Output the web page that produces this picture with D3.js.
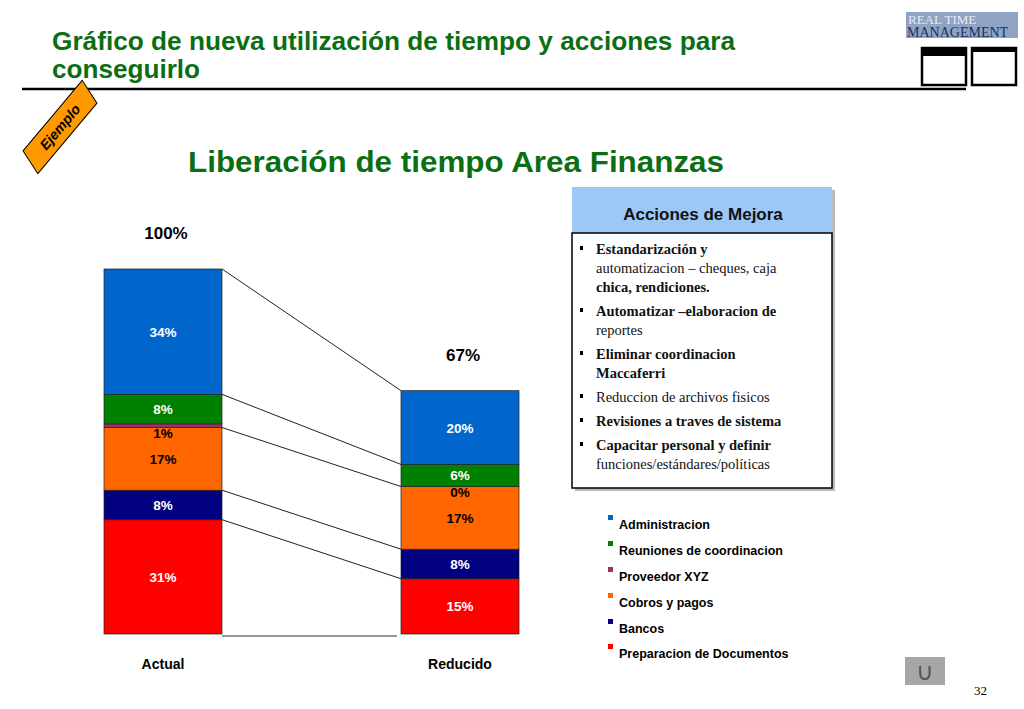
<!DOCTYPE html>
<html lang="es">
<head>
<meta charset="UTF-8" />
<title>Liberación de tiempo Area Finanzas</title>
<script src="https://cdn.jsdelivr.net/npm/d3@7"></script>
<style>
  body { margin: 0; background: #fff; }
  svg text { font-family: "Liberation Sans", Arial, sans-serif; }
  .serif { font-family: "Liberation Serif", "Times New Roman", serif !important; }
</style>
</head>
<body>
<svg id="chart" width="1024" height="709"></svg>
<script>
  const categories = ["Preparacion de Documentos", "Bancos", "Cobros y pagos", "Proveedor XYZ", "Reuniones de coordinacion", "Administracion"];
  const colors = ["#ff0000", "#000080", "#ff6600", "#993366", "#008000", "#0066cc"];
  const labelColors = ["#fff", "#fff", "#000", "#000", "#fff", "#fff"];
  const bars = ["Actual", "Reducido"];
  const actual = [31, 8, 17, 1, 8, 34];
  const reducido = [15, 8, 17, 0, 6, 20];
  const totals = ["100%", "67%"];
  const acciones = [
    [["Estandarización y", true], ["automatizacion – cheques, caja", false], ["chica, rendiciones.", true]],
    [["Automatizar –elaboracion de", true], ["reportes", false]],
    [["Eliminar coordinacion", true], ["Maccaferri", true]],
    [["Reduccion de archivos fisicos", false]],
    [["Revisiones a traves de sistema", true]],
    [["Capacitar personal y definir", true], ["funciones/estándares/políticas", false]]
  ];

  const svg = d3.select("#chart");
  const green = "#0b6e13";

  // header
  svg.append("text").attr("x", 52).attr("y", 50).attr("font-size", 25).attr("font-weight", "bold")
    .attr("fill", green).attr("textLength", 683).attr("lengthAdjust", "spacingAndGlyphs")
    .text("Gráfico de nueva utilización de tiempo y acciones para");
  svg.append("text").attr("x", 52).attr("y", 78).attr("font-size", 25).attr("font-weight", "bold")
    .attr("fill", green).attr("textLength", 148).attr("lengthAdjust", "spacingAndGlyphs").text("conseguirlo");
  svg.append("line").attr("x1", 22).attr("x2", 966).attr("y1", 89).attr("y2", 89)
    .attr("stroke", "#000").attr("stroke-width", 2.5);

  // logo
  svg.append("rect").attr("x", 906).attr("y", 12).attr("width", 112).attr("height", 26).attr("fill", "#8fa3c4");
  svg.append("text").attr("class", "serif").attr("x", 908).attr("y", 24).attr("font-size", 13).attr("fill", "#e8edf5").text("REAL TIME");
  svg.append("text").attr("class", "serif").attr("x", 907).attr("y", 37).attr("font-size", 14).attr("fill", "#1c2f5c").text("MANAGEMENT");
  [[922, true], [972, false]].forEach(([x, filled]) => {
    svg.append("rect").attr("x", x).attr("y", 48).attr("width", 44).attr("height", 37)
      .attr("fill", "#fff").attr("stroke", "#000").attr("stroke-width", 2.5);
    svg.append("rect").attr("x", x).attr("y", 48).attr("width", 44).attr("height", filled ? 8 : 4).attr("fill", "#000");
  });

  // Ejemplo badge
  const badge = svg.append("g").attr("transform", "translate(60,127) rotate(-50)");
  badge.append("path").attr("d", "M-42,-13 L50,-13 L42,13 L-50,13 Z").attr("fill", "#ff9900").attr("stroke", "#000");
  badge.append("text").attr("x", 0).attr("y", 5).attr("text-anchor", "middle").attr("font-size", 14)
    .attr("font-style", "italic").attr("font-weight", "bold").text("Ejemplo");

  svg.append("text").attr("x", 188).attr("y", 172).attr("font-size", 30)
    .attr("font-weight", "bold").attr("fill", green).attr("textLength", 536).attr("lengthAdjust", "spacingAndGlyphs")
    .text("Liberación de tiempo Area Finanzas");

  // stacked bars
  const x = d3.scaleOrdinal().domain(bars).range([104, 401]);
  const barW = 118;
  const y = d3.scaleLinear().domain([0, 99]).range([634, 269]);
  const series = [actual, reducido];

  const stacks = series.map(vals => {
    let acc = 0;
    return vals.map((v, i) => { const s = { i, v, y0: acc, y1: acc + v }; acc += v; return s; });
  });

  stacks.forEach((st, b) => {
    const g = svg.append("g");
    g.selectAll("rect").data(st).join("rect")
      .attr("x", x(bars[b])).attr("width", barW)
      .attr("y", d => y(d.y1)).attr("height", d => y(d.y0) - y(d.y1))
      .attr("fill", d => colors[d.i]).attr("stroke", "#222").attr("stroke-width", 0.7);
    g.selectAll("text").data(st).join("text")
      .attr("x", x(bars[b]) + barW / 2)
      .attr("y", d => d.v < 2 ? y(d.y0) + 10 : (y(d.y0) + y(d.y1)) / 2 + 5)
      .attr("text-anchor", "middle").attr("font-size", 13.5).attr("font-weight", "bold")
      .attr("fill", d => labelColors[d.i]).text(d => d.v + "%");
    svg.append("text").attr("x", x(bars[b]) + barW / 2).attr("y", 669).attr("text-anchor", "middle")
      .attr("font-size", 14).attr("font-weight", "bold").text(bars[b]);
    svg.append("text").attr("x", x(bars[b]) + barW / 2 + 3).attr("y", y(st[5].y1) - 30).attr("text-anchor", "middle")
      .attr("font-size", 17).attr("font-weight", "bold").text(totals[b]);
  });

  // connector lines between matching boundaries
  const links = [[5, 1], [4, 1], [3, 0], [2, 0], [1, 0]];
  links.forEach(([i, end]) => {
    const a = stacks[0][i], r = stacks[1][i];
    svg.append("line")
      .attr("x1", x(bars[0]) + barW).attr("y1", y(end ? a.y1 : a.y0))
      .attr("x2", x(bars[1])).attr("y2", y(end ? r.y1 : r.y0))
      .attr("stroke", "#222").attr("stroke-width", 1);
  });
  svg.append("line").attr("x1", x(bars[0]) + barW).attr("x2", x(bars[1]) - 4)
    .attr("y1", 636).attr("y2", 636).attr("stroke", "#333").attr("stroke-width", 1.2);

  // acciones box
  svg.append("rect").attr("x", 575).attr("y", 190).attr("width", 260).attr("height", 301).attr("fill", "#bbb");
  svg.append("rect").attr("x", 572).attr("y", 187).attr("width", 260).attr("height", 46).attr("fill", "#9dc8f5");
  svg.append("rect").attr("x", 572).attr("y", 233).attr("width", 260).attr("height", 255)
    .attr("fill", "#fff").attr("stroke", "#000").attr("stroke-width", 1.5);
  svg.append("text").attr("x", 703).attr("y", 220).attr("text-anchor", "middle").attr("font-size", 17)
    .attr("font-weight", "bold").attr("fill", "#111").text("Acciones de Mejora");
  let ly = 254;
  acciones.forEach(item => {
    svg.append("rect").attr("x", 580).attr("y", ly - 8).attr("width", 3).attr("height", 4).attr("fill", "#000");
    item.forEach(([t, bold]) => {
      svg.append("text").attr("class", "serif").attr("x", 596).attr("y", ly).attr("font-size", 14.5)
        .attr("font-weight", bold ? "bold" : "normal").attr("fill", "#111").text(t);
      ly += 19;
    });
    ly += 5;
  });

  // legend
  const legendY = [525, 551, 577, 603, 629, 654];
  categories.slice().reverse().forEach((c, k) => {
    const i = categories.length - 1 - k;
    svg.append("rect").attr("x", 608).attr("y", legendY[k] - 10).attr("width", 5).attr("height", 5).attr("fill", colors[i]);
    svg.append("text").attr("x", 619).attr("y", legendY[k] + 4).attr("font-size", 12.5)
      .attr("font-weight", "bold").text(c);
  });

  // footer
  svg.append("rect").attr("x", 905).attr("y", 657).attr("width", 40).attr("height", 28).attr("fill", "#a6a6a6");
  svg.append("text").attr("x", 925).attr("y", 680).attr("text-anchor", "middle").attr("font-size", 24)
    .attr("fill", "#555").text("∪");
  svg.append("text").attr("class", "serif").attr("x", 987).attr("y", 695).attr("text-anchor", "end")
    .attr("font-size", 13).text("32");
</script>
</body>
</html>
